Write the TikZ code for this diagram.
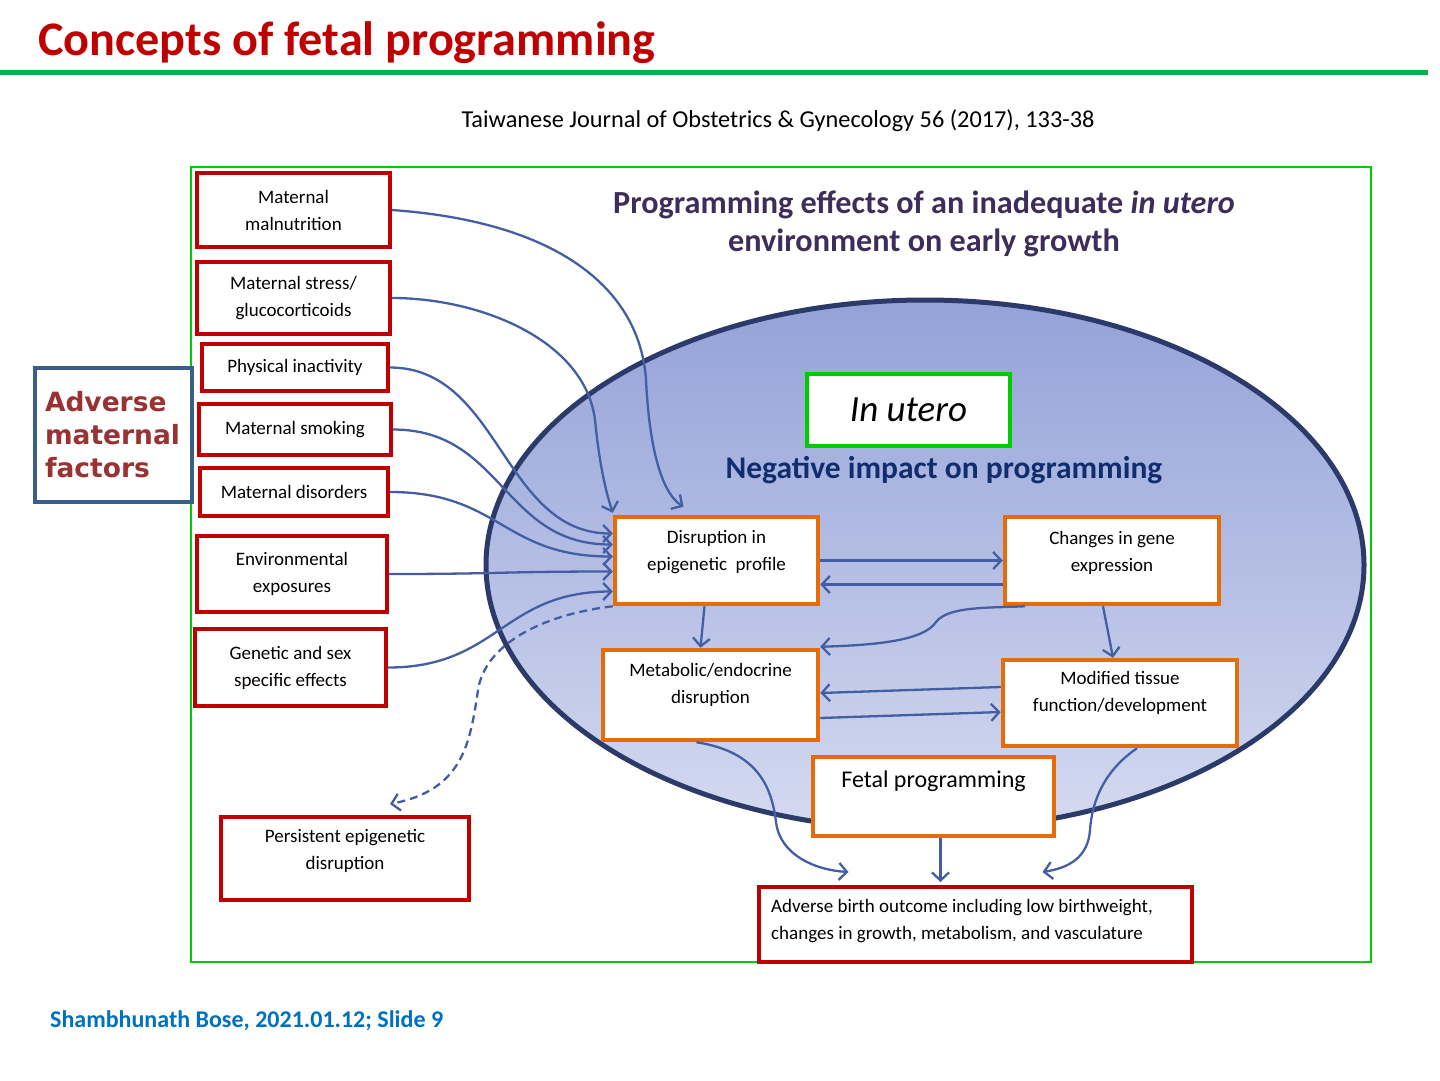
\documentclass[tikz,border=0pt]{standalone}
\usepackage{fontspec}
\setmainfont{Carlito}
\newfontfamily\blackfont{DejaVu Sans}
\usetikzlibrary{arrows.meta,positioning}

\definecolor{slidered}{RGB}{192,0,0}
\definecolor{rulegreen}{RGB}{0,176,80}
\definecolor{framegreen}{RGB}{0,204,0}
\definecolor{boxorange}{RGB}{228,108,10}
\definecolor{factorblue}{RGB}{58,94,140}
\definecolor{factorred}{RGB}{153,51,51}
\definecolor{headpurple}{RGB}{60,45,90}
\definecolor{impactblue}{RGB}{18,45,110}
\definecolor{linkblue}{RGB}{68,94,164}
\definecolor{wombline}{RGB}{44,58,105}
\definecolor{wombtop}{RGB}{148,162,216}
\definecolor{wombbot}{RGB}{212,218,240}
\definecolor{footblue}{RGB}{0,112,192}

\newcommand\boxfont{\fontsize{19}{27}\selectfont}

\begin{document}
\begin{tikzpicture}[x=1pt, y=-1pt, >={Straight Barb[length=8pt,width=17pt]}]
		\useasboundingbox (0,0) rectangle (1440,1080);
		\tikzstyle{redbox} = [draw=slidered, line width=4pt, fill=white, align=center, font=\boxfont]
		\tikzstyle{orangebox} = [draw=boxorange, line width=4.5pt, fill=white]
		\tikzstyle{boxtext} = [align=center, font=\boxfont, inner sep=0]
		\tikzstyle{link} = [draw=linkblue, line width=2.3pt, ->]

		% slide header
		\node[anchor=base west, inner sep=0, text=slidered, font=\fontsize{48.2}{52}\selectfont\bfseries] (title) at (38,55) {Concepts of fetal programming};
		\draw[rulegreen, line width=5pt] (0,72) -- (1428,72);
		\node[anchor=base, inner sep=0, font=\fontsize{24.3}{28}\selectfont] (cite) at (778,127) {Taiwanese Journal of Obstetrics \& Gynecology 56 (2017), 133-38};

		% figure frame and womb
		\draw[framegreen, line width=2pt] (191,167) rectangle (1371,962);
		\node[text=headpurple, align=center, font=\fontsize{32.2}{38}\selectfont\bfseries] (heading) at (924,224) {Programming effects of an inadequate \textit{in utero}\\environment on early growth};
		\draw[draw=wombline, line width=5pt, top color=wombtop, bottom color=wombbot] (925,565) ellipse [x radius=439pt, y radius=265pt];

		% side label
		\node[draw=factorblue, line width=3.5pt, fill=white, minimum height=134pt, text width=137pt, inner xsep=10pt, align=left, text=factorred, font=\blackfont\bfseries\fontsize{26.5}{33}\selectfont] (factors) at (113.5,435) {Adverse\\maternal\\factors};

		% maternal factors
		\node[redbox, minimum width=193pt, minimum height=74pt] (malnut) at (293.5,210) {Maternal\\malnutrition};
		\node[redbox, minimum width=193pt, minimum height=72pt] (stress) at (293.5,298) {Maternal stress/\\glucocorticoids};
		\node[redbox, minimum width=186pt, minimum height=47pt] (inactiv) at (295,367.5) {Physical inactivity};
		\node[redbox, minimum width=192pt, minimum height=51pt] (smoking) at (295,429.5) {Maternal smoking};
		\node[redbox, minimum width=188pt, minimum height=48pt] (disord) at (294,492) {Maternal disorders};
		\node[redbox, minimum width=190pt, minimum height=76pt] (environ) at (292,574) {Environmental\\exposures};
		\node[redbox, minimum width=191pt, minimum height=77pt] (genetic) at (290.5,667.5) {Genetic and sex\\specific effects};
		\node[redbox, minimum width=248pt, minimum height=83pt] (persist) at (345,858.5) {};
		\node[boxtext] (persist-t) at ([yshift=8pt]persist.center) {Persistent epigenetic\\disruption};

		% in utero
		\node[draw=framegreen, line width=4pt, fill=white, minimum width=203pt, minimum height=72pt, font=\fontsize{37}{42}\selectfont\itshape] (inutero) at (908.5,410) {In utero};
		\node[text=impactblue, font=\fontsize{31.5}{36}\selectfont\bfseries] (impact) at (944,470) {Negative impact on programming};

		\node[orangebox, minimum width=203pt, minimum height=87pt] (epi) at (716.5,560.5) {};
		\node[boxtext] (epi-t) at ([yshift=8pt]epi.center) {Disruption in\\epigenetic\ \ profile};
		\node[orangebox, minimum width=214pt, minimum height=87pt] (gene) at (1112,560.5) {};
		\node[boxtext] (gene-t) at ([yshift=8pt]gene.center) {Changes in gene\\expression};
		\node[orangebox, minimum width=215pt, minimum height=90pt] (metab) at (710.5,695) {};
		\node[boxtext] (metab-t) at ([yshift=10pt]metab.center) {Metabolic/endocrine\\disruption};
		\node[orangebox, minimum width=234pt, minimum height=86pt] (tissue) at (1120,703) {};
		\node[boxtext] (tissue-t) at ([yshift=10pt]tissue.center) {Modified tissue\\function/development};
		\node[orangebox, minimum width=241pt, minimum height=79pt] (fetal) at (933.5,796.5) {};
		\node[inner sep=0, font=\fontsize{24}{28}\selectfont] (fetal-t) at ([yshift=15pt]fetal.center) {Fetal programming};

		% outcome
		\node[redbox, minimum width=433pt, minimum height=75pt] (outcome) at (975.5,924.5) {};
		\node[boxtext, align=left, anchor=west] (outcome-t) at ([xshift=14pt,yshift=3pt]outcome.west) {Adverse birth outcome including low birthweight,\\ changes in growth, metabolism, and vasculature};

		% factor-epigenetic connections
		\draw[link] (malnut.east) .. controls (560,222) and (640,290) .. (646,380) .. controls (650,460) and (665,495) .. ([xshift=-33pt,yshift=8pt]epi.north);
		\draw[link] (stress.east) .. controls (480,298) and (585,340) .. (595,420) .. controls (600,470) and (607,495) .. ([yshift=2pt]epi.north west);
		\foreach \src/\dy in {inactiv/27, smoking/16, disord/4, environ/-11, genetic/-31}
			\draw[link] (\src.east) .. controls +(110,0) and +(-110,0) .. ([yshift=\dy pt]epi.west);
		\draw[link, dash pattern=on 8pt off 5pt] (epi.south west) .. controls (540,615) and (485,645) .. (478,690) .. controls (470,745) and (462,790) .. ([xshift=45pt,yshift=11pt]persist.north);

		% in utero connections
		\draw[link] (epi.east) -- (gene.west);
		\draw[link] ([yshift=-24pt]gene.west) -- ([yshift=-24pt]epi.east);
		\draw[link] ([xshift=-12pt]epi.south) -- ([xshift=-10pt]metab.north);
		\draw[link] ([xshift=-9pt]gene.south) -- ([xshift=-7pt]tissue.north);
		\draw[link] ([xshift=22pt]gene.south west) .. controls (990,608) and (948,606) .. (936,622) .. controls (924,640) and (880,645) .. ([yshift=1pt]metab.north east);
		\draw[link] ([yshift=16pt]tissue.west) -- ([yshift=2pt]metab.east);
		\draw[link] ([yshift=-23pt]metab.east) -- ([yshift=-9pt]tissue.west);

		% outcome connections
		\draw[link] ([xshift=-14pt]metab.south) .. controls (760,752) and (772,790) .. (776,822) .. controls (780,855) and (815,870) .. ([xshift=-127pt,yshift=13pt]outcome.north);
		\draw[link] ([xshift=7pt]fetal.south) -- ([xshift=7pt,yshift=3pt]fetal.south |- outcome.north);
		\draw[link] ([xshift=17pt]tissue.south) .. controls (1105,770) and (1092,800) .. (1090,830) .. controls (1088,858) and (1068,868) .. ([xshift=67pt,yshift=13pt]outcome.north);

		% footer
		\node[anchor=base west, inner sep=0, text=footblue, font=\fontsize{24}{27}\selectfont\bfseries] (footer) at (50,1027) {Shambhunath Bose, 2021.01.12; Slide 9};
	\end{tikzpicture}
\end{document}
